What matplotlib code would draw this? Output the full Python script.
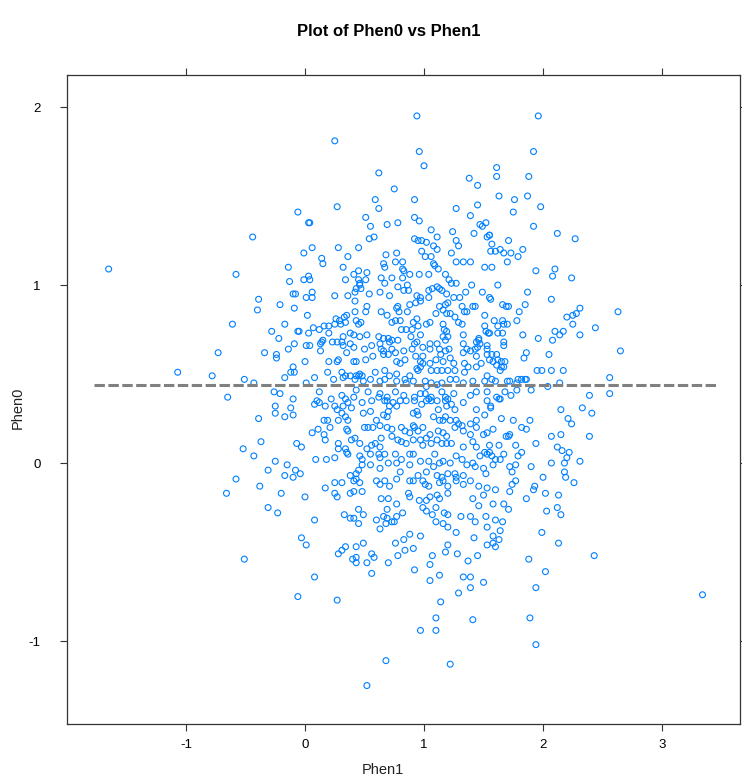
import matplotlib
matplotlib.use("Agg")
import matplotlib.pyplot as plt
import numpy as np

plt.rcParams['font.family'] = ['Liberation Sans', 'DejaVu Sans']
plt.rcParams['axes.unicode_minus'] = False
plt.rcParams['lines.scale_dashes'] = False

# Phen1 (x) and Phen0 (y) for every sample, kept in the same order
phen1 = [
    -0.06, 0.03, 0.04, -0.44, -0.01, 0.06, 0.14, 0.15, -0.14, -0.58,
    -0.13, 0.03, -0.01, 0.04, -0.10, -0.08, 0.06, 0.01, 0.06, -0.39,
    0.94, 0.25, 0.96, 1.00, 0.62, 1.38, 1.45, 0.75, 0.59, 0.62,
    0.92, 0.27, 1.27, 1.45, 0.92, 0.96, 1.39, 0.51, 0.55, 0.69,
    0.78, 1.06, 1.24, 1.42, 1.47, 1.49, 1.52, 1.53, 1.55, 0.28,
    0.45, 0.54, 0.58, 0.92, 0.95, 0.98, 1.02, 1.11, 1.08, 1.11,
    1.27, 1.29, 1.23, 0.98, 1.01, 1.06, 0.36, 0.68, 0.77, 0.32,
    0.66, 0.67, 0.76, 0.82, 1.08, 1.09, 1.12, 1.27, 1.33, 1.39,
    1.51, 0.34, 0.41, 0.45, 0.52, 0.45, 0.46, 0.51, 0.64, 0.67,
    0.73, 0.82, 0.83, 0.82, 0.88, 0.96, 1.04, 1.18, 1.21, 1.23,
    1.27, 1.40, 0.46, 0.43, 0.47, 0.78, 0.86, 0.83, 0.87, 1.04,
    1.07, 1.11, 1.13, 1.15, 1.19, 1.25, 1.35, 1.49, 0.25, 0.36,
    0.42, 0.54, 0.63, 0.71, 0.94, 0.97, 1.04, 1.30, 1.55,
    1.96, 1.92, 1.61, 1.61, 1.88, 1.63, 1.76, 1.75, 1.87, 1.98,
    1.92, 2.12, 2.27, 1.55, 1.57, 1.56, 1.71, 1.60, 1.64, 1.67,
    1.73, 1.79, 1.83, 1.70, 1.57, 1.94, 2.10, 2.08, 2.24, 1.62,
    1.87, 2.07, 1.56,
    -0.40, -0.21, -0.09, 0.02, -0.61, -0.17, -0.28, -0.22, -0.06, -0.05,
    0.03, 0.07, 0.12, 0.16, 0.20, 0.20, -0.09, -0.14, 0.01, 0.04,
    0.14, 0.15, 0.13, 0.13, -0.73, -0.34, -0.24, -0.24, 0.00, 0.20,
    -0.10, -0.12, -0.09, 0.19, -1.07, -0.78, -0.51, -0.43, -0.17, 0.01,
    0.08, -0.65, -0.26, -0.21, -0.10, 0.12, 0.10, 0.12, 0.08, 0.17,
    -0.25, -0.25, -0.12, -0.17, -0.10, -0.39, 0.16, 0.19, 0.21, 0.06,
    0.11, 0.16, 0.17, -0.37, -0.07, -0.03, -0.52, -0.43, 0.09, 0.18,
    -0.25, -0.15, -0.31, -0.08, -0.04, -0.17, -0.10, -0.58, -0.38, 0.17,
    -0.66, -0.20, 0.00,
    0.42, 0.52, 0.78, 0.77, 0.88, 0.93, 0.97, 1.13, 1.18, 1.20, 1.32, 1.34, 1.41, 1.43, 1.51,
    0.26, 0.35, 0.33, 0.29, 0.42, 0.43, 0.47, 0.51, 0.64, 0.69,
    0.79, 0.86, 0.94, 1.05, 1.10, 1.16, 1.19, 1.22, 1.26, 1.29, 1.32, 1.36, 1.52,
    0.25, 0.30, 0.34, 0.45, 0.73, 0.76, 0.80, 0.81, 0.85, 0.90,
    0.91, 0.95, 1.02, 1.16, 1.17, 1.19, 1.33, 1.46, 1.54, 1.51,
    0.23, 0.27, 0.31, 0.32, 0.38, 0.41, 0.46, 0.52, 0.62, 0.66,
    0.70, 0.71, 0.73, 0.78, 0.89, 0.92, 0.94, 0.97, 1.05, 1.11,
    1.18, 1.20, 1.16, 1.33, 1.44, 1.46, 1.47, 1.53,
    0.32, 0.38, 0.41, 0.50, 0.56, 0.63, 0.64, 0.66, 0.73, 0.76,
    0.83, 0.90, 0.99, 1.05, 1.13, 1.14, 1.18, 1.21, 1.33, 1.36, 1.39, 1.43, 1.45, 1.53,
    0.27, 0.28, 0.35, 0.41, 0.43, 0.51, 0.57, 0.66, 0.70, 0.77,
    0.80, 0.84, 0.93, 0.97, 0.99, 1.05, 1.10, 1.16, 1.22, 1.25, 1.34, 1.44, 1.53,
    0.31, 0.34, 0.38, 0.43, 0.45, 0.46, 0.48, 0.59, 0.67, 0.71,
    0.77, 0.88, 0.94, 0.95, 0.97, 0.99, 1.06, 1.11, 1.15, 1.20,
    1.26, 1.34, 1.37, 1.44, 1.48, 1.53,
    0.24, 0.32, 0.42, 0.49, 0.55, 0.63, 0.67, 0.77, 0.84, 0.85,
    0.91, 1.01, 1.02, 1.06, 1.11, 1.15, 1.22, 1.27, 1.33, 1.41, 1.51,
    0.22, 0.31, 0.34, 0.41, 0.43, 0.53, 0.62, 0.63, 0.67, 0.69,
    0.76, 0.83, 0.92, 0.97, 1.01, 1.04, 1.06, 1.11, 1.15, 1.18,
    1.20, 1.25, 1.39, 1.44, 1.53,
    0.25, 0.27, 0.32, 0.36, 0.39, 0.48, 0.56, 0.69, 0.71, 0.74,
    0.77, 0.80, 0.85, 0.92, 0.98, 1.02, 1.06, 1.12, 1.18, 1.19,
    1.23, 1.26, 1.33, 1.44, 1.53,
    0.31, 0.34, 0.36, 0.28, 0.49, 0.55, 0.60, 0.66, 0.69, 0.70,
    0.91, 0.94, 0.95, 1.08, 1.13, 1.16, 1.18, 1.22, 1.27, 1.29,
    1.32, 1.39, 1.44, 1.51,
    0.35, 0.36, 0.50, 0.53, 0.57, 0.63, 0.69, 0.73, 0.81, 0.84,
    0.88, 0.91, 0.92, 0.95, 0.99, 1.05, 1.12, 1.16, 1.19, 1.26,
    1.33, 1.39, 1.44, 1.50, 1.53,
    0.28, 0.28, 0.34, 0.39, 0.42, 0.46, 0.52, 0.56, 0.59, 0.63,
    0.64, 0.73, 0.78, 0.81, 0.85, 0.91, 0.97, 0.99, 1.02, 1.06,
    1.11, 1.15, 1.19, 1.23, 1.33, 1.41, 1.44, 1.51, 1.53,
    0.25, 0.35, 0.36, 0.46, 0.48, 0.55, 0.62, 0.63, 0.67, 0.76,
    0.81, 0.88, 0.91, 0.97, 1.04, 1.09, 1.13, 1.16, 1.22, 1.27,
    1.32, 1.36, 1.41, 1.47,
    0.38, 0.43, 0.45, 0.48, 0.55, 0.63, 0.70, 0.77, 0.80, 0.88,
    0.95, 1.02, 1.08, 1.11, 1.15, 1.20, 1.26, 1.27, 1.33, 1.43,
    1.50, 1.52,
    0.25, 0.31, 0.41, 0.43, 0.46, 0.60, 0.63, 0.67, 0.71, 0.77,
    0.88, 0.91, 0.99, 1.01, 1.04, 1.13, 1.16, 1.20, 1.27, 1.33,
    1.39, 1.46, 1.53,
    0.25, 0.27, 0.38, 0.41, 0.48, 0.64, 0.70, 0.87, 0.88, 1.05,
    1.11, 1.13, 1.20, 1.41, 1.50,
    1.66, 1.69, 1.71, 1.85, 1.80, 2.20, 2.25, 2.28, 2.31, 2.63,
    1.78, 1.59, 1.66, 1.70, 1.67, 1.62, 2.25, 2.44, 1.55, 1.62,
    1.66, 1.83, 1.96, 2.10, 2.14, 2.17, 2.31, 2.08, 1.67, 1.67,
    1.86, 1.84, 2.05, 2.65, 1.57, 1.61, 1.55, 1.58, 1.62, 1.65,
    1.68, 1.61, 1.65, 1.64, 1.67, 1.95, 1.99, 2.07, 2.17, 2.56,
    1.57, 1.60, 1.70, 1.72, 1.79, 1.82, 1.85, 1.86, 1.78, 1.68,
    1.73, 1.78, 1.90, 2.04, 2.14, 2.39, 2.56, 1.61, 1.63, 1.64,
    1.56, 1.56, 2.15, 2.33, 2.41, 1.65, 1.75, 1.89, 1.82, 1.86,
    2.21, 2.24, 1.58, 2.07, 2.15, 2.39, 1.69, 1.71, 1.72, 1.55,
    1.63, 1.77, 1.94, 2.12, 2.16, 2.22, 2.20, 2.18, 2.31, 1.55,
    1.57, 1.67, 1.64, 1.60, 1.79, 1.82, 1.58, 2.07, 1.72, 1.74,
    1.77, 1.90, 2.18, 2.19, 2.00, 2.26, 1.77, 1.74, 1.72, 1.60,
    1.93, 1.92, 2.02, 2.13, 1.86,
    -0.31, -0.23, 0.08, -0.03, 0.01, -0.51, 0.08, -0.06,
    0.77, 0.96, 1.02, 1.46,
    0.45, 0.33, 0.38, 0.41, 0.49, 0.45, 0.69, 0.77, 0.82, 0.66,
    0.69, 0.73, 0.75, 0.68, 0.60, 0.63, 0.99, 1.02, 1.07, 1.10,
    1.17, 1.20, 1.10, 1.16, 1.20, 1.31, 1.39, 1.43, 1.52, 1.53,
    1.27, 1.42, 0.88, 0.97, 0.76, 0.83, 0.91, 0.84, 0.78, 0.70,
    0.28, 0.31, 0.34, 0.43, 0.49, 0.56, 0.58, 0.40, 0.43, 0.43,
    0.52, 0.56, 0.92, 1.05, 1.07, 1.18, 1.20, 1.28, 1.37, 1.45,
    1.13, 1.05, 1.33, 1.39, 1.50, 1.29, 1.39, 0.27, 1.14, 1.10,
    1.41, 0.97, 1.10, 0.68, 1.22, 0.52, 1.53,
    1.58, 1.67, 1.71, 2.03, 2.12, 2.15, 1.60, 1.66, 1.64, 1.58,
    1.63, 1.58, 1.60, 1.99, 2.13, 2.43, 1.88, 2.02, 1.94, 1.89,
    1.94,
    -1.65, 3.34,
]

phen0 = [
    1.41, 1.35, 1.35, 1.27, 1.18, 1.21, 1.15, 1.12, 1.10, 1.06,
    1.02, 1.05, 1.03, 1.03, 0.95, 0.95, 0.96, 0.93, 0.93, 0.92,
    1.95, 1.81, 1.75, 1.67, 1.63, 1.60, 1.56, 1.54, 1.48, 1.43,
    1.48, 1.44, 1.43, 1.45, 1.38, 1.36, 1.39, 1.38, 1.33, 1.34,
    1.35, 1.31, 1.30, 1.29, 1.34, 1.33, 1.35, 1.27, 1.28, 1.21,
    1.21, 1.26, 1.27, 1.26, 1.25, 1.25, 1.24, 1.27, 1.22, 1.20,
    1.25, 1.22, 1.18, 1.19, 1.16, 1.16, 1.16, 1.17, 1.18, 1.10,
    1.12, 1.10, 1.13, 1.13, 1.12, 1.11, 1.09, 1.13, 1.13, 1.13,
    1.10, 1.03, 1.06, 1.08, 1.07, 1.03, 1.01, 1.03, 1.04, 1.01,
    1.04, 1.09, 1.08, 1.04, 1.06, 1.06, 1.06, 1.06, 1.03, 1.01,
    1.01, 1.00, 1.00, 0.98, 0.98, 0.99, 1.00, 0.97, 0.97, 0.97,
    0.98, 0.99, 0.98, 0.97, 0.95, 0.93, 0.96, 0.96, 0.94, 0.94,
    0.96, 0.95, 0.96, 0.94, 0.94, 0.93, 0.93, 0.93, 0.93,
    1.95, 1.75, 1.66, 1.61, 1.61, 1.50, 1.48, 1.41, 1.50, 1.44,
    1.33, 1.29, 1.26, 1.28, 1.23, 1.19, 1.25, 1.19, 1.20, 1.18,
    1.18, 1.16, 1.20, 1.13, 1.10, 1.08, 1.09, 1.05, 1.04, 1.00,
    0.96, 0.92, 0.92,
    0.86, 0.89, 0.87, 0.83, 0.78, 0.78, 0.74, 0.70, 0.74, 0.74,
    0.73, 0.76, 0.75, 0.77, 0.77, 0.73, 0.67, 0.64, 0.66, 0.66,
    0.68, 0.69, 0.67, 0.63, 0.62, 0.62, 0.61, 0.59, 0.57, 0.57,
    0.54, 0.51, 0.51, 0.51, 0.51, 0.49, 0.47, 0.45, 0.48, 0.45,
    0.48, 0.37, 0.40, 0.39, 0.36, 0.40, 0.35, 0.34, 0.33, 0.32,
    0.32, 0.28, 0.31, 0.26, 0.27, 0.25, 0.24, 0.24, 0.20, 0.17,
    0.19, 0.16, 0.13, 0.12, 0.11, 0.09, 0.08, 0.04, 0.02, 0.02,
    0.01, -0.01, -0.04, -0.04, -0.06, -0.07, -0.08, -0.09, -0.13, -0.14,
    -0.17, -0.17, -0.19,
    0.91, 0.88, 0.88, 0.87, 0.89, 0.90, 0.91, 0.88, 0.89, 0.90, 0.88, 0.85, 0.88, 0.88, 0.83,
    0.81, 0.83, 0.82, 0.80, 0.85, 0.80, 0.79, 0.85, 0.85, 0.83,
    0.85, 0.85, 0.81, 0.79, 0.84, 0.86, 0.84, 0.84, 0.82, 0.79, 0.78, 0.85, 0.74,
    0.78, 0.78, 0.79, 0.78, 0.79, 0.80, 0.80, 0.75, 0.75, 0.75,
    0.79, 0.77, 0.78, 0.78, 0.75, 0.74, 0.72, 0.70, 0.73, 0.77,
    0.68, 0.68, 0.68, 0.71, 0.73, 0.72, 0.71, 0.72, 0.71, 0.70,
    0.70, 0.68, 0.69, 0.69, 0.71, 0.67, 0.68, 0.72, 0.67, 0.67,
    0.69, 0.71, 0.71, 0.67, 0.68, 0.69, 0.67, 0.66,
    0.66, 0.67, 0.65, 0.64, 0.66, 0.67, 0.64, 0.63, 0.64, 0.62,
    0.63, 0.64, 0.65, 0.64, 0.64, 0.61, 0.63, 0.64, 0.62, 0.64, 0.63, 0.64, 0.65, 0.64,
    0.57, 0.58, 0.62, 0.57, 0.57, 0.58, 0.60, 0.61, 0.61, 0.57,
    0.56, 0.58, 0.60, 0.57, 0.60, 0.56, 0.58, 0.57, 0.59, 0.56, 0.56, 0.60, 0.61,
    0.51, 0.49, 0.49, 0.49, 0.49, 0.50, 0.49, 0.51, 0.52, 0.49,
    0.50, 0.49, 0.53, 0.52, 0.54, 0.56, 0.52, 0.52, 0.52, 0.52,
    0.52, 0.51, 0.54, 0.54, 0.56, 0.49,
    0.47, 0.48, 0.47, 0.46, 0.47, 0.46, 0.47, 0.46, 0.47, 0.45,
    0.46, 0.46, 0.43, 0.45, 0.44, 0.45, 0.47, 0.47, 0.45, 0.46, 0.46,
    0.36, 0.38, 0.36, 0.37, 0.41, 0.40, 0.37, 0.39, 0.35, 0.37,
    0.40, 0.38, 0.37, 0.39, 0.39, 0.36, 0.37, 0.35, 0.40, 0.37,
    0.36, 0.39, 0.38, 0.40, 0.40,
    0.32, 0.30, 0.32, 0.34, 0.31, 0.34, 0.35, 0.35, 0.32, 0.34,
    0.32, 0.35, 0.35, 0.35, 0.33, 0.35, 0.35, 0.30, 0.35, 0.32,
    0.33, 0.30, 0.34, 0.30, 0.35,
    0.28, 0.26, 0.24, 0.24, 0.28, 0.29, 0.24, 0.27, 0.26, 0.29,
    0.28, 0.29, 0.27, 0.26, 0.24, 0.24, 0.26, 0.24, 0.24, 0.22,
    0.21, 0.22, 0.24, 0.27,
    0.19, 0.18, 0.20, 0.20, 0.20, 0.21, 0.20, 0.19, 0.20, 0.18,
    0.17, 0.21, 0.20, 0.18, 0.20, 0.16, 0.18, 0.17, 0.15, 0.20,
    0.18, 0.16, 0.20, 0.16, 0.17,
    0.11, 0.08, 0.08, 0.13, 0.14, 0.11, 0.08, 0.10, 0.11, 0.09,
    0.14, 0.15, 0.13, 0.12, 0.11, 0.13, 0.13, 0.10, 0.14, 0.11,
    0.13, 0.11, 0.11, 0.11, 0.09, 0.12, 0.09, 0.06, 0.05,
    0.03, 0.06, 0.05, 0.04, 0.02, 0.05, 0.05, 0.03, 0.05, 0.05,
    0.02, 0.05, 0.05, 0.01, 0.01, 0.05, 0.00, 0.01, 0.00, 0.04,
    0.02, -0.01, 0.00, 0.04,
    -0.07, -0.06, -0.04, -0.01, -0.01, -0.03, 0.00, 0.00, -0.05, -0.01,
    -0.07, -0.05, -0.02, -0.07, -0.08, -0.06, -0.06, -0.08, -0.07, -0.02,
    -0.03, -0.06,
    -0.11, -0.11, -0.10, -0.09, -0.11, -0.10, -0.12, -0.10, -0.13, -0.09,
    -0.10, -0.10, -0.10, -0.12, -0.13, -0.11, -0.10, -0.13, -0.10, -0.12,
    -0.10, -0.13, -0.14,
    -0.17, -0.19, -0.17, -0.16, -0.16, -0.20, -0.20, -0.17, -0.19, -0.19,
    -0.18, -0.20, -0.17, -0.20, -0.18,
    0.89, 0.88, 0.88, 0.89, 0.85, 0.82, 0.83, 0.84, 0.87, 0.85,
    0.80, 0.80, 0.80, 0.78, 0.78, 0.77, 0.78, 0.76, 0.73, 0.73,
    0.73, 0.72, 0.70, 0.74, 0.72, 0.74, 0.72, 0.69, 0.68, 0.66,
    0.62, 0.59, 0.61, 0.63, 0.61, 0.61, 0.58, 0.57, 0.58, 0.57,
    0.57, 0.55, 0.54, 0.52, 0.54, 0.52, 0.52, 0.52, 0.52, 0.48,
    0.47, 0.46, 0.46, 0.46, 0.47, 0.47, 0.47, 0.47, 0.45, 0.40,
    0.38, 0.41, 0.41, 0.43, 0.45, 0.38, 0.39, 0.37, 0.36, 0.36,
    0.32, 0.31, 0.30, 0.31, 0.28, 0.25, 0.24, 0.24, 0.20, 0.19,
    0.25, 0.22, 0.19, 0.15, 0.16, 0.15, 0.15, 0.15, 0.16, 0.10,
    0.10, 0.10, 0.11, 0.09, 0.07, 0.06, 0.03, 0.00, 0.01, 0.06,
    0.04, 0.05, 0.02, 0.02, 0.04, 0.06, -0.01, 0.00, -0.02, -0.05,
    -0.01, -0.02, -0.05, -0.08, -0.08, -0.11, -0.10, -0.12, -0.16, -0.15,
    -0.13, -0.15, -0.17, -0.18, -0.20,
    -0.25, -0.28, -0.32, -0.42, -0.46, -0.54, -0.64, -0.75,
    -0.23, -0.21, -0.21, -0.24,
    -0.26, -0.29, -0.31, -0.31, -0.29, -0.34, -0.26, -0.30, -0.28, -0.30,
    -0.31, -0.33, -0.33, -0.34, -0.32, -0.37, -0.25, -0.27, -0.29, -0.25,
    -0.28, -0.29, -0.33, -0.34, -0.36, -0.30, -0.30, -0.33, -0.30, -0.36,
    -0.39, -0.42, -0.40, -0.41, -0.45, -0.43, -0.48, -0.49, -0.52, -0.56,
    -0.51, -0.49, -0.47, -0.47, -0.45, -0.51, -0.53, -0.54, -0.53, -0.56,
    -0.56, -0.62, -0.60, -0.57, -0.52, -0.50, -0.46, -0.51, -0.55, -0.52,
    -0.63, -0.66, -0.64, -0.64, -0.67, -0.73, -0.70, -0.77, -0.78, -0.87,
    -0.88, -0.94, -0.94, -1.11, -1.13, -1.25, -0.46,
    -0.23, -0.23, -0.26, -0.27, -0.25, -0.29, -0.32, -0.33, -0.38, -0.41,
    -0.43, -0.45, -0.47, -0.39, -0.45, -0.52, -0.54, -0.61, -0.70, -0.87,
    -1.02,
    1.09, -0.74,
]

# horizontal reference drawn across the spread of Phen1
ref_level = 0.44
ref_span = [-1.77, 3.46]

x = np.array(phen1)
y = np.array(phen0)

fig = plt.figure(figsize=(7.42, 7.81), dpi=100)
ax = fig.add_axes([67 / 742, 1 - 724 / 781, 673 / 742, 649 / 781])

ax.scatter(x, y, s=18, facecolors='none', edgecolors='#0080ff', linewidths=0.8, zorder=2)
ax.plot(ref_span, [ref_level, ref_level], color='#808080', lw=2.2,
        dashes=(7.5, 2.5), zorder=3)

ax.set_xlim(-2.0, 3.655)
ax.set_ylim(-1.466, 2.18)
ax.set_xticks([-1, 0, 1, 2, 3])
ax.set_yticks([-1, 0, 1, 2])

for side in ax.spines.values():
    side.set_color('#333333')
    side.set_linewidth(0.9)
ax.tick_params(direction='out', length=5, width=0.8, color='#333333',
               top=True, right=True, labeltop=False, labelright=False,
               labelsize=9.5, labelcolor='black')
ax.tick_params(axis='x', pad=6)
ax.tick_params(axis='y', pad=14)

fig.text(389 / 742, 1 - 32 / 781, 'Plot of Phen0 vs Phen1', ha='center', va='center',
         fontsize=12, fontweight='bold')
fig.text(383 / 742, 1 - 770 / 781, 'Phen1', ha='center', va='center', fontsize=10.5,
         color='#222222')
fig.text(18 / 742, 1 - 408 / 781, 'Phen0', ha='center', va='center', rotation=90,
         fontsize=10.5, color='#222222')

fig.savefig('out.png', dpi=100)
